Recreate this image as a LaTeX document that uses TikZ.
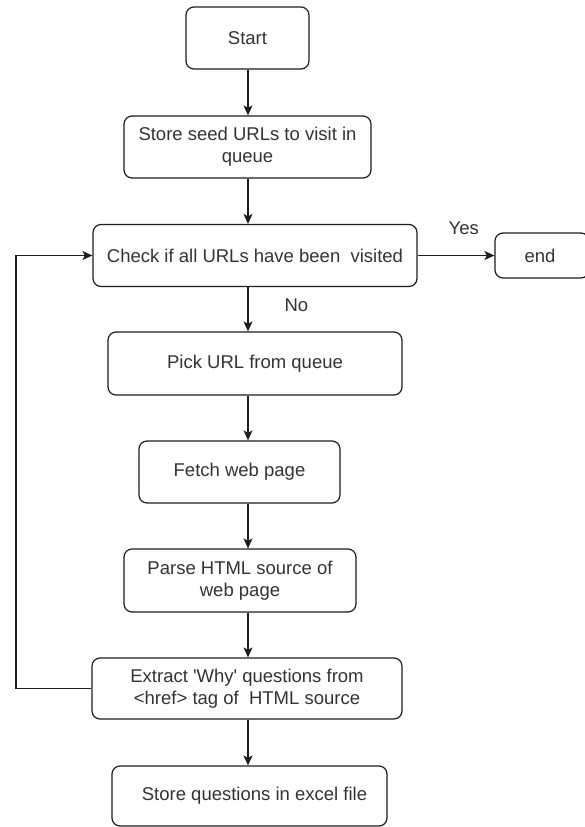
\documentclass[tikz,border=0pt]{standalone}
\usepackage{fontspec}
\setmainfont{Liberation Sans}
\usetikzlibrary{arrows.meta}
\definecolor{ln}{HTML}{1E1E1E}
\definecolor{tx}{HTML}{333333}
\tikzset{
  box/.style={draw=ln, line width=1.2pt, rounded corners=8pt, align=center,
    inner sep=0pt, text=tx, font=\fontsize{18.5}{22}\selectfont},
  arr/.style={draw=ln, line width=1.2pt, -{Stealth[length=10pt,width=9pt,inset=2.5pt]}},
  lbl/.style={text=tx, font=\fontsize{18.5}{22}\selectfont, inner sep=0pt}
}
\begin{document}
\begin{tikzpicture}[x=1pt,y=-1pt]
\useasboundingbox (0,0) rectangle (584,827);
\fill[white] (0,0) rectangle (584,827);
\node[box, minimum width=123pt, minimum height=62pt] (start) at (247.5,38) {Start};
\node[box, minimum width=247pt, minimum height=62pt] (seed) at (247.5,147) {Store seed URLs to visit in\\queue};
\node[box, minimum width=324pt, minimum height=62pt] (check) at (255,255.5) {Check if all URLs have been\ \ visited};
\node[box, minimum width=94pt, minimum height=45pt] (end) at (542,255.5) {\hspace*{-4pt}end};
\node[box, minimum width=294pt, minimum height=63pt] (pick) at (255,363.5) {Pick URL from queue};
\node[box, minimum width=201pt, minimum height=62pt] (fetch) at (239.5,472) {Fetch web page};
\node[box, minimum width=232pt, minimum height=63pt] (parse) at (240,580.5) {Parse HTML source of\\web page};
\node[box, minimum width=310pt, minimum height=61pt] (extract) at (247,688.5) {Extract \textquotesingle Why\textquotesingle{} questions from\\\textless href\textgreater{} tag of\ \ HTML source};
\node[box, minimum width=275pt, minimum height=60pt] (storeq) at (249.5,796) {\hspace*{10pt}Store questions in excel file};
\coordinate (fbL) at (16,688.5);
\coordinate (fbT) at (16,255.5);

\draw[arr] (start.south -| 248,0) -- (seed.north -| 248,0);
\draw[arr] (seed.south -| 248,0) -- (check.north -| 248,0);
\draw[arr] (check.south -| 248,0) -- node[lbl, pos=0.4, right=36pt] {No} (pick.north -| 248,0);
\draw[arr] (pick.south -| 248,0) -- (fetch.north -| 248,0);
\draw[arr] (fetch.south -| 248,0) -- (parse.north -| 248,0);
\draw[arr] (parse.south -| 248,0) -- (extract.north -| 248,0);
\draw[arr] (extract.south -| 248,0) -- (storeq.north -| 248,0);
\draw[arr] (check.east) -- node[lbl, above=20pt, pos=0.6] {Yes} (end.west);
\draw[arr] (extract.west) -- (fbL) -- (fbT) -- (check.west);
\end{tikzpicture}
\end{document}
